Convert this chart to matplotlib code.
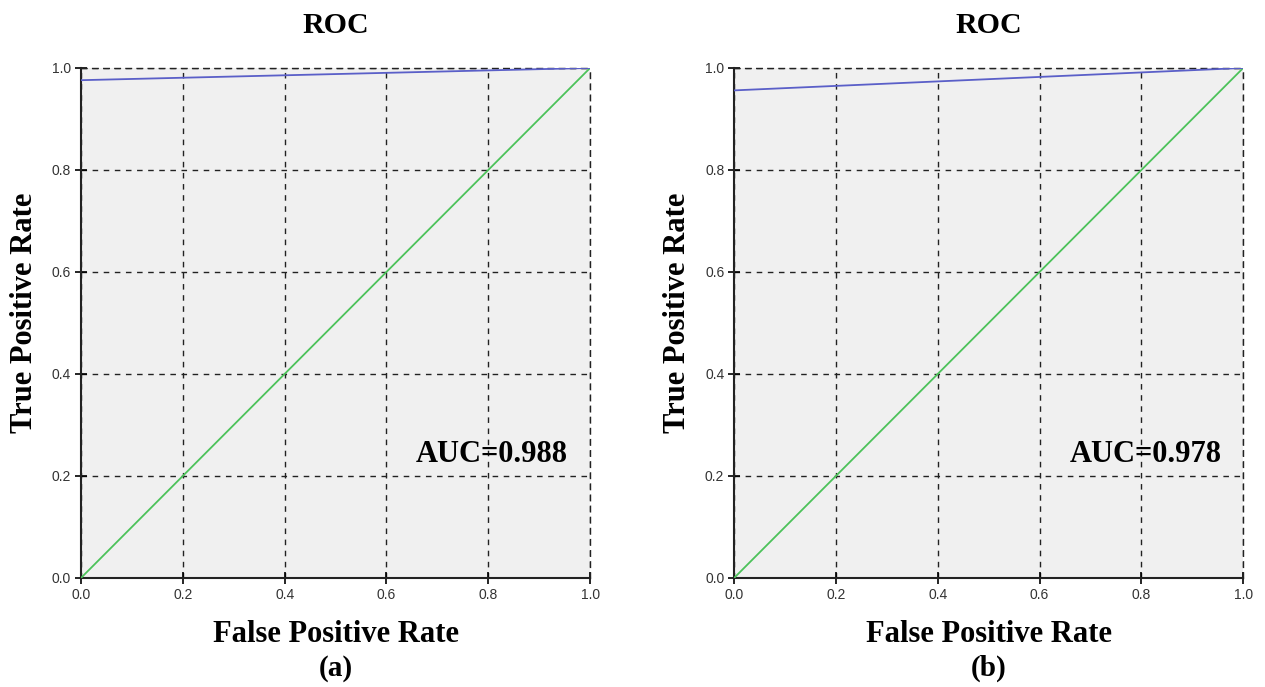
import matplotlib.pyplot as plt
import numpy as np

plt.rcParams['font.family'] = 'Liberation Serif'

# ROC curves
fpr_a = [0.0, 1.0]
tpr_a = [0.976, 1.0]
fpr_b = [0.0, 1.0]
tpr_b = [0.956, 1.0]
diag = [0.0, 1.0]
auc_labels = ['AUC=0.988', 'AUC=0.978']
panel_labels = ['(a)', '(b)']
ticks = [0.0, 0.2, 0.4, 0.6, 0.8, 1.0]

fig = plt.figure(figsize=(12.65, 6.87), dpi=100)
ax1 = fig.add_axes([0.064, 0.1587, 0.4025, 0.7424])
ax2 = fig.add_axes([0.5803, 0.1587, 0.4025, 0.7424])

curves = [(fpr_a, tpr_a), (fpr_b, tpr_b)]
for ax, (fx, ty), auc, lab in zip([ax1, ax2], curves, auc_labels, panel_labels):
    ax.set_facecolor('#f0f0f0')
    ax.plot(diag, diag, color='#4cc25a', lw=1.3, zorder=3)
    ax.plot(fx, ty, color='#5a5fc8', lw=1.3, zorder=3)
    ax.set_xlim(0, 1)
    ax.set_ylim(0, 1)
    ax.set_xticks(ticks)
    ax.set_yticks(ticks)
    ax.set_xticklabels(['%.1f' % t for t in ticks], family='Liberation Sans', fontsize=10, color='#333333')
    ax.set_yticklabels(['%.1f' % t for t in ticks], family='Liberation Sans', fontsize=10, color='#333333')
    ax.grid(True, color='#222222', ls=(0, (4, 4)), lw=1.0)
    ax.tick_params(direction='inout', length=8, width=1.2, pad=3)
    for s in ['top', 'right']:
        ax.spines[s].set_linestyle((0, (4, 4)))
        ax.spines[s].set_linewidth(1.0)
        ax.spines[s].set_color('#222222')
    for s in ['left', 'bottom']:
        ax.spines[s].set_linewidth(1.5)
        ax.spines[s].set_color('#222222')
    ax.set_title('ROC', fontsize=21.5, fontweight='bold', pad=25)
    ax.set_xlabel('False Positive Rate', fontsize=22, fontweight='bold', labelpad=13)
    ax.set_ylabel('True Positive Rate', fontsize=22, fontweight='bold')
    ax.yaxis.set_label_coords(-0.083, 0.52)
    ax.text(0.957, 0.243, auc, transform=ax.transAxes, ha='right', va='center',
            fontsize=22, fontweight='bold')
    ax.text(0.5, -0.178, lab, transform=ax.transAxes, ha='center', va='center',
            fontsize=21, fontweight='bold')

fig.savefig('out.png', dpi=100)
